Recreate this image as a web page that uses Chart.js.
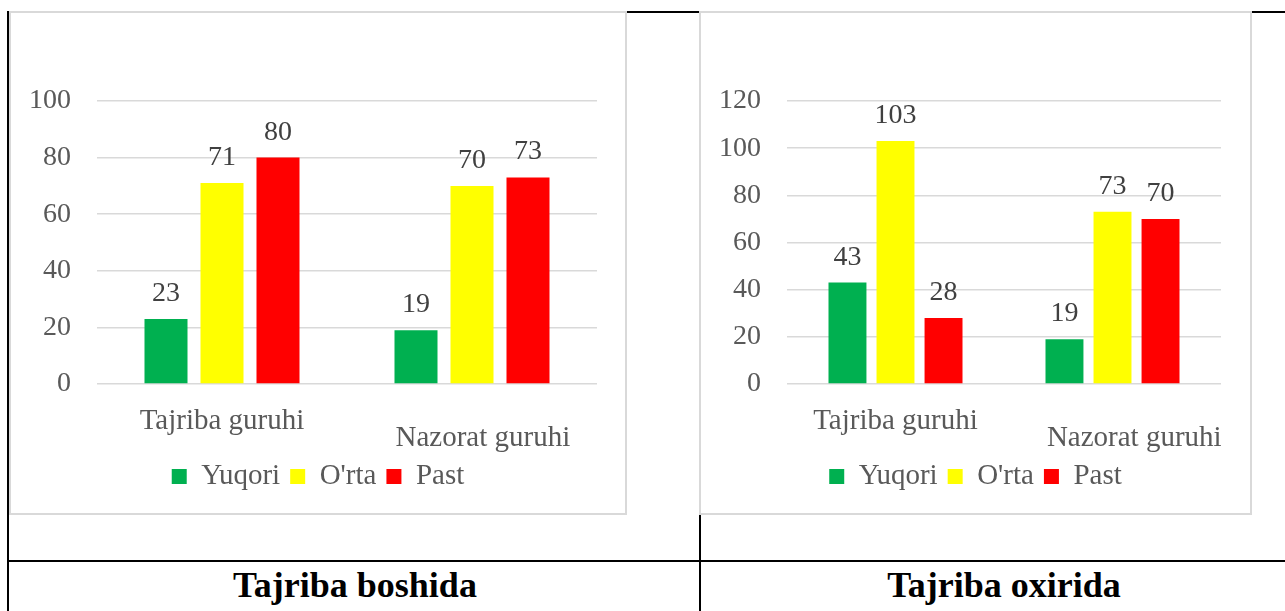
<!DOCTYPE html>
<html>
<head>
<meta charset="utf-8">
<script src="https://cdn.jsdelivr.net/npm/chart.js@4/dist/chart.umd.min.js"></script>
<style>
  html, body { margin: 0; padding: 0; background: #fff; width: 1285px; height: 611px; overflow: hidden; }
  .line { position: absolute; background: #000; }
  .box { position: absolute; box-sizing: border-box; border: 2px solid #d9d9d9; background: #fff; }
  .box canvas { display: block; }
  .caption { position: absolute; top: 564px; height: 49px; line-height: 49px; text-align: center;
             font: bold 36px "Liberation Serif", "Times New Roman", serif; color: #000; }
</style>
</head>
<body>
<div class="line" style="left:7px; top:11px; width:1278px; height:2px;"></div>
<div class="line" style="left:7px; top:11px; width:2px; height:600px;"></div>
<div class="line" style="left:699px; top:11px; width:2px; height:600px;"></div>
<div class="line" style="left:7px; top:560px; width:1278px; height:2px;"></div>

<div class="box" style="left:9px; top:11px; width:618px; height:504px;">
  <canvas id="chartStart" width="614" height="500"></canvas>
</div>
<div class="box" style="left:699px; top:11px; width:553px; height:504px;">
  <canvas id="chartEnd" width="549" height="500"></canvas>
</div>

<div class="caption" style="left:9px; width:692px;">Tajriba boshida</div>
<div class="caption" style="left:701px; width:606px;">Tajriba oxirida</div>

<script>
/*
*Chart data
*/
const categories = ['Tajriba guruhi', 'Nazorat guruhi'];
const seriesNames = ['Yuqori', "O'rta", 'Past'];

// Tajriba boshida
const startYuqori = [23, 19];
const startOrta = [71, 70];
const startPast = [80, 73];
const startMax = 100;

// Tajriba oxirida
const endYuqori = [43, 19];
const endOrta = [103, 73];
const endPast = [28, 70];
const endMax = 120;

const tickStep = 20;

const colors = {
    GREEN: '#00b050',
    YELLOW: '#ffff00',
    RED: '#ff0000'
};
const FONT = '"Liberation Serif", "Times New Roman", serif';

/*
*Draw the value above each bar
*/
const valueLabels = {
    id: 'valueLabels',
    afterDatasetsDraw(chart) {
        const ctx = chart.ctx;
        ctx.save();
        ctx.font = '28px ' + FONT;
        ctx.fillStyle = '#404040';
        ctx.textAlign = 'center';
        ctx.textBaseline = 'alphabetic';
        chart.data.datasets.forEach((ds, i) => {
            chart.getDatasetMeta(i).data.forEach((bar, j) => {
                ctx.fillText(String(ds.data[j]), bar.x, bar.y - 18);
            });
        });
        ctx.restore();
    }
};

/*
*Draw one bar graphic
*@param id canvas id
*@param values list of the three series
*@param max top of the value axis
*@param catPct, barPct bar widths
*@param rightPad space right of the plot
*@param shift leading spaces of the second (lower) category label
*/
function drawGraphic(id, values, max, catPct, barPct, rightPad, shift) {
    const ctx = document.getElementById(id).getContext('2d');
    const barColors = [colors.GREEN, colors.YELLOW, colors.RED];
    return new Chart(ctx, {
        type: 'bar',
        data: {
            // second label one line lower, like the staggered labels of the original
            labels: [categories[0], ['', '\u00a0'.repeat(shift) + categories[1]]],
            datasets: seriesNames.map((name, i) => ({
                label: name,
                data: values[i],
                backgroundColor: barColors[i],
                categoryPercentage: catPct,
                barPercentage: barPct
            }))
        },
        options: {
            responsive: false,
            animation: false,
            layout: { padding: { top: 88, right: 0, bottom: 12, left: 0 } },
            scales: {
                x: {
                    grid: { display: false, drawTicks: false },
                    border: { display: false },
                    ticks: {
                        maxRotation: 0, autoSkip: false, padding: 28.5,
                        color: '#595959',
                        font: { family: FONT, size: 29, lineHeight: 0.586 }
                    },
                    afterFit(scale) {
                        scale.height = 68;
                        scale.paddingLeft = 0;
                        scale.paddingRight = 0;
                    }
                },
                y: {
                    min: 0, max: max,
                    grid: { color: '#d9d9d9', lineWidth: 1.5, drawTicks: false },
                    border: { display: false },
                    ticks: {
                        stepSize: tickStep, padding: 26,
                        color: '#595959',
                        font: { family: FONT, size: 28 }
                    },
                    afterFit(scale) { scale.width = 86; }
                },
                // empty axis that only keeps the space right of the plot
                side: {
                    position: 'right',
                    grid: { display: false, drawTicks: false },
                    border: { display: false },
                    ticks: { display: false },
                    afterFit(scale) { scale.width = rightPad; }
                }
            },
            plugins: {
                legend: {
                    position: 'bottom',
                    labels: {
                        boxWidth: 15, boxHeight: 15, padding: 10,
                        color: '#595959',
                        font: { family: FONT, size: 29 }
                    }
                },
                tooltip: { enabled: false }
            }
        },
        plugins: [valueLabels]
    });
}

drawGraphic('chartStart', [startYuqori, startOrta, startPast], startMax, 0.672, 0.768, 28, 3);
drawGraphic('chartEnd', [endYuqori, endOrta, endPast], endMax, 0.664, 0.79, 29, 6);
</script>
</body>
</html>
